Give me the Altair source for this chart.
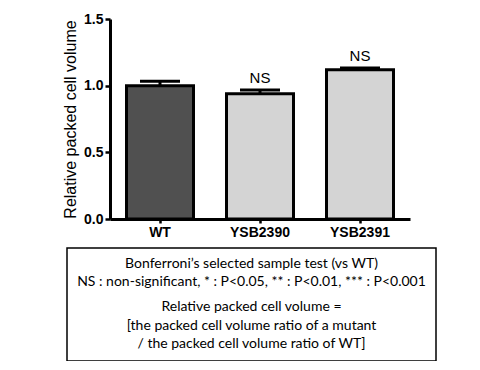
import altair as alt
import pandas as pd

strains = ["WT", "YSB2390", "YSB2391"]
means = [1.0, 0.94, 1.12]
sems = [0.034, 0.027, 0.013]
sig = ["", "NS", "NS"]
fills = ["#505050", "#d4d4d4", "#d4d4d4"]

note_top = ["Bonferroni\u2019s selected sample test (vs WT)",
            "NS : non-significant, * : P<0.05, ** : P<0.01, *** : P<0.001"]
note_bottom = ["Relative packed cell volume =",
               "[the packed cell volume ratio of a mutant",
               "/ the packed cell volume ratio of WT]"]

df = pd.DataFrame({"strain": strains, "mean": means, "sem": sems,
                   "sig": sig, "fill": fills})
df["top"] = df["mean"] + df["sem"]

AX = "Liberation Sans"
NOTE = "Lato"

x = alt.X("strain:N", sort=strains, title=None,
          scale=alt.Scale(paddingInner=0, paddingOuter=0),
          axis=alt.Axis(labelAngle=0, labelFont=AX, labelFontSize=14,
                        labelFontWeight="bold", labelColor="black",
                        tickSize=4, tickWidth=2.5, domainWidth=3,
                        domainColor="black", tickColor="black", labelPadding=2))
y_scale = alt.Scale(domain=[0, 1.5], nice=False)

base = alt.Chart(df)

bars = base.mark_bar(size=67, stroke="black", strokeWidth=3).encode(
    x=x,
    y=alt.Y("mean:Q", scale=y_scale, title="Relative packed cell volume",
            axis=alt.Axis(values=[0, 0.5, 1.0, 1.5], format=".1f", grid=False,
                          labelFont=AX, labelFontSize=14, labelFontWeight="bold",
                          labelColor="black", tickSize=5, tickWidth=2.5,
                          domainWidth=3, domainColor="black", tickColor="black",
                          titleFont=AX, titleFontSize=16, titleFontWeight="normal",
                          titleColor="black", titlePadding=5, labelPadding=2)),
    fill=alt.Fill("fill:N", scale=None),
)

stem = base.mark_rule(strokeWidth=3, color="black", opacity=1).encode(
    x=alt.X("strain:N", sort=strains),
    y=alt.Y("mean:Q", scale=y_scale),
    y2="top:Q",
)

cap = base.mark_tick(size=40, thickness=3, color="black", opacity=1).encode(
    x=alt.X("strain:N", sort=strains),
    y=alt.Y("top:Q", scale=y_scale),
)

labels = base.mark_text(baseline="alphabetic", dy=-7, font=AX, fontSize=15,
                        color="black").encode(
    x=alt.X("strain:N", sort=strains),
    y=alt.Y("top:Q", scale=y_scale),
    text="sig:N",
)

one = pd.DataFrame({"k": [0]})
box = alt.Chart(one).mark_rect(fill=None, stroke="black", strokeWidth=1.5).encode(
    x=alt.value(-43), x2=alt.value(326), y=alt.value(229), y2=alt.value(342))

line_y = [245, 263, 288, 307, 325]
texts = []
for t, yy in zip(note_top + note_bottom, line_y):
    texts.append(alt.Chart(one).mark_text(text=t, font=NOTE, fontSize=14,
                                          color="black", baseline="middle",
                                          align="center").encode(
        x=alt.value(141.5), y=alt.value(yy)))

chart = alt.layer(bars, stem, cap, labels, box, *texts).properties(
    width=300, height=200,
    autosize=alt.AutoSizeParams(type="none"),
    padding={"left": 102, "top": 11, "right": 62, "bottom": 142},
).configure_view(stroke=None)

chart.save("out.html", embed_options={"renderer": "svg", "actions": False})
